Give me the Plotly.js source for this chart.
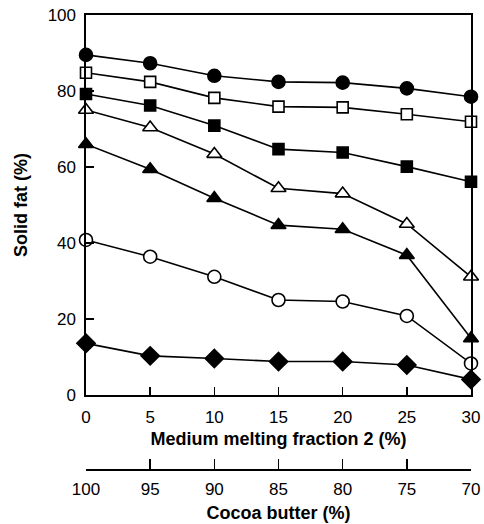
<!DOCTYPE html>
<html>
<head>
<meta charset="utf-8">
<script src="https://cdn.plot.ly/plotly-3.0.1.min.js"></script>
<style>html,body{margin:0;padding:0;background:#fff;}#chart{width:484px;height:524px;}</style>
</head>
<body>
<div id="chart"></div>
<script>
// Data
const mmf = [0, 5, 10, 15, 20, 25, 30];            // Medium melting fraction 2 (%)
const cocoa = [100, 95, 90, 85, 80, 75, 70];        // Cocoa butter (%)
const filledCircle   = [89.5, 87.3, 84.0, 82.4, 82.2, 80.7, 78.5];
const openSquare     = [84.8, 82.4, 78.2, 75.9, 75.7, 73.9, 71.9];
const filledSquare   = [79.2, 76.2, 70.9, 64.7, 63.8, 60.1, 56.1];
const openTriangle   = [75.0, 70.4, 63.4, 54.4, 53.0, 45.0, 31.1];
const filledTriangle = [66.0, 59.4, 51.8, 44.7, 43.6, 36.8, 14.9];
const openCircle     = [40.8, 36.4, 31.1, 25.0, 24.6, 20.8, 8.3];
const filledDiamond  = [13.6, 10.3, 9.6, 8.8, 8.8, 7.9, 4.1];
const yTicks = [0, 20, 40, 60, 80, 100];

function series(y, symbol, filled, size) {
  return {
    x: mmf, y: y, type: 'scatter', mode: 'lines+markers',
    line: {color: '#000', width: 1.6},
    marker: {symbol: symbol, size: size, color: filled ? '#000' : '#fff',
             line: {color: '#000', width: 1.6}},
    cliponaxis: false, showlegend: false, hoverinfo: 'skip'
  };
}

const traces = [
  series(filledDiamond, 'diamond', true, 14),
  series(openCircle, 'circle', false, 13),
  series(filledTriangle, 'triangle-up', true, 13),
  series(openTriangle, 'triangle-up', false, 13),
  series(filledSquare, 'square', true, 11),
  series(openSquare, 'square', false, 11),
  series(filledCircle, 'circle', true, 13),
  {x: cocoa, y: filledDiamond, xaxis: 'x2', type: 'scatter', mode: 'markers',
   marker: {opacity: 0}, showlegend: false, hoverinfo: 'skip'}
];

const font = {family: 'Liberation Sans, Arial, sans-serif', color: '#000'};
const layout = {
  width: 484, height: 524,
  margin: {l: 86, r: 13, t: 15, b: 55},
  paper_bgcolor: '#fff', plot_bgcolor: '#fff',
  font: Object.assign({size: 17}, font),
  showlegend: false,
  xaxis: {
    range: [0, 30], tickvals: mmf, ticks: 'inside', ticklen: 8, tickwidth: 1.5,
    tickcolor: '#000', showline: true, linecolor: '#000', linewidth: 1.6, mirror: true,
    showgrid: false, zeroline: false, tickfont: {size: 17}, ticklabelstandoff: 6,
    title: {text: '<b>Medium melting fraction 2 (%)</b>', font: {size: 18}, standoff: 6}
  },
  xaxis2: {
    overlaying: 'x', anchor: 'free', position: 0, side: 'bottom',
    range: [100, 70], tickvals: cocoa, ticks: 'inside', ticklen: 10, tickwidth: 1.5,
    tickcolor: '#000', showline: true, linecolor: '#000', linewidth: 1.6,
    showgrid: false, zeroline: false, tickfont: {size: 17}, ticklabelstandoff: 4,
    title: {text: '<b>Cocoa butter (%)</b>', font: {size: 18}, standoff: 8}
  },
  yaxis: {
    domain: [0.163, 1], range: [0, 100], tickvals: yTicks, ticks: 'inside', ticklen: 8,
    tickwidth: 1.5, tickcolor: '#000', showline: true, linecolor: '#000', linewidth: 1.6,
    mirror: true, showgrid: false, zeroline: false, tickfont: {size: 17}, ticklabelstandoff: 5,
    title: {text: '<b>Solid fat (%)</b>', font: {size: 18}, standoff: 15}
  }
};

Plotly.newPlot('chart', traces, layout, {displayModeBar: false, staticPlot: true});
</script>
</body>
</html>
